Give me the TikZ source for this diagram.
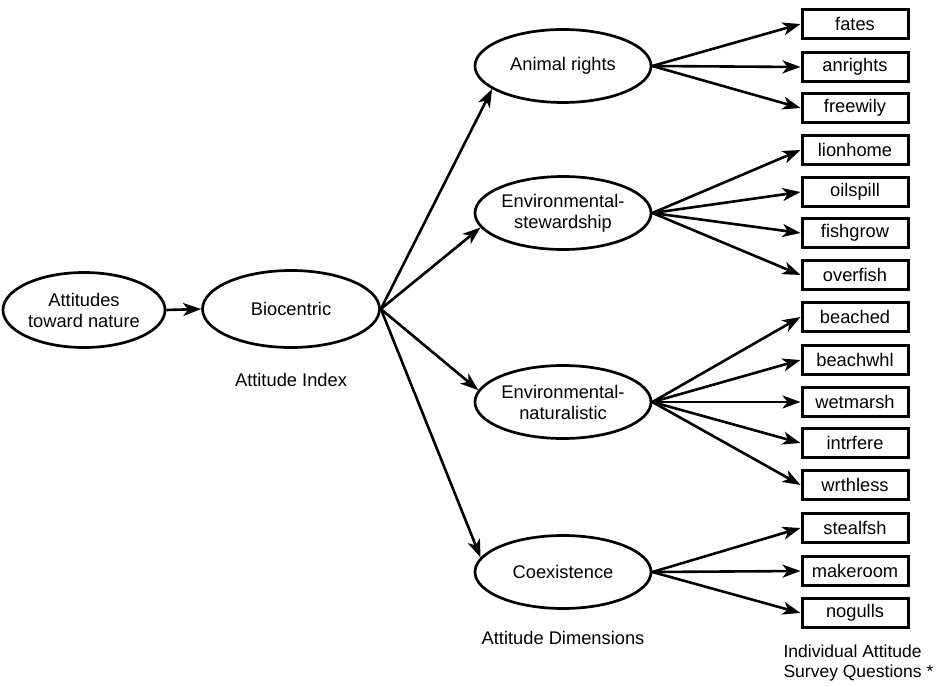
\documentclass[tikz,border=0pt]{standalone}
\usepackage{fontspec}
\setmainfont{Liberation Sans}
\usetikzlibrary{shapes.geometric,arrows.meta}

\begin{document}
\begin{tikzpicture}[x=1pt, y=-1pt,
        dim/.style={draw, ellipse, line width=2.7pt, inner sep=0pt, minimum width=176pt, minimum height=73pt, align=center},
        item/.style={draw, line width=3pt, minimum width=106pt, minimum height=29pt, inner sep=0pt},
        arr/.style={line width=2.6pt, -{Stealth[length=18pt, width=13pt, inset=5pt]}},
        font=\fontsize{18.3}{21}\selectfont,
    ]
        \useasboundingbox (0,0) rectangle (942,687);

        % index and dimensions
        \node[dim, minimum width=162pt, minimum height=75pt] (nat) at (84,310) {Attitudes\\toward nature};
        \node[dim, minimum width=177pt, minimum height=77pt] (bio) at (291,309) {Biocentric};
        \node[dim] (ar) at (563,66)  {Animal rights};
        \node[dim] (es) at (563,213) {Environmental-\\stewardship};
        \node[dim] (en) at (563,402) {Environmental-\\naturalistic};
        \node[dim] (ce) at (563,572) {Coexistence};

        % survey questions
        \node[item] (fates)    at (855,24)  {fates};
        \node[item] (anrights) at (855,67)  {anrights};
        \node[item] (freewily) at (855,108) {freewily};
        \node[item] (lionhome) at (855,150) {lionhome};
        \node[item] (oilspill) at (855,192) {oilspill};
        \node[item] (fishgrow) at (855,233) {fishgrow};
        \node[item] (overfish) at (855,275) {overfish};
        \node[item] (beached)  at (855,317) {beached};
        \node[item] (beachwhl) at (855,360) {beachwhl};
        \node[item] (wetmarsh) at (855,402) {wetmarsh};
        \node[item] (intrfere) at (855,443) {intrfere};
        \node[item] (wrthless) at (855,485) {wrthless};
        \node[item] (stealfsh) at (855,528) {stealfsh};
        \node[item] (makeroom) at (855,571) {makeroom};
        \node[item] (nogulls)  at (855,613) {nogulls};

        % captions
        \node (idx)  at (291,380) {Attitude Index};
        \node (dims) at (563,638) {Attitude Dimensions};
        \node[anchor=west, align=left, font=\fontsize{17.5}{20}\selectfont] (qs) at (780,663) {Individual Attitude\\Survey Questions *};

        \draw[arr] (nat.east) -- (bio.west);
        \draw[arr] (bio.east) -- (ar.198);
        \draw[arr] (bio.east) -- (es.190);
        \draw[arr] (bio.east) -- (en.172);
        \draw[arr] (bio.east) -- (ce.170);

        \draw[arr] (ar.east) -- (fates.west);
        \draw[arr] (ar.east) -- (anrights.west);
        \draw[arr] (ar.east) -- (freewily.west);
        \draw[arr] (es.east) -- (lionhome.west);
        \draw[arr] (es.east) -- (oilspill.west);
        \draw[arr] (es.east) -- (fishgrow.west);
        \draw[arr] (es.east) -- (overfish.west);
        \draw[arr] (en.east) -- (beached.west);
        \draw[arr] (en.east) -- (beachwhl.west);
        \draw[arr] (en.east) -- (wetmarsh.west);
        \draw[arr] (en.east) -- (intrfere.west);
        \draw[arr] (en.east) -- (wrthless.west);
        \draw[arr] (ce.east) -- (stealfsh.west);
        \draw[arr] (ce.east) -- (makeroom.west);
        \draw[arr] (ce.east) -- (nogulls.west);
    \end{tikzpicture}
\end{document}
